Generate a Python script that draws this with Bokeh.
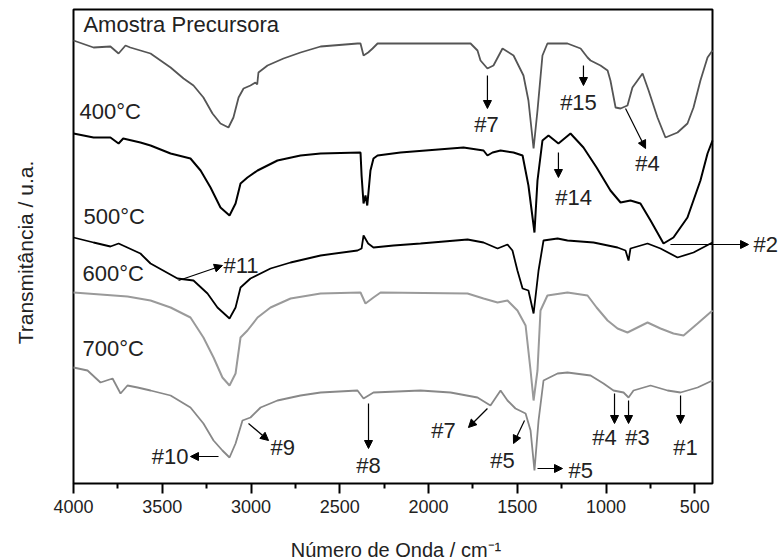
import math
from bokeh.plotting import figure
from bokeh.models import Range1d, FixedTicker, Label, Arrow, NormalHead, ColumnDataSource
from bokeh.embed import file_html
from bokeh.resources import INLINE

# ---------------- data (wavenumber / cm-1, transmittance in arbitrary offset units) ----------------
wn_prec = [4000, 3887, 3792, 3746, 3707, 3680, 3623, 3566, 3453, 3380, 3324, 3268, 3217, 3172, 3127,
           3099, 3070, 3042, 3003, 2975, 2965, 2958, 2907, 2817, 2721, 2608, 2400, 2383, 2366, 2340,
           2315, 2287, 2158, 1763, 1724, 1707, 1668, 1634, 1583, 1521, 1465, 1437, 1408, 1386, 1358,
           1330, 1217, 1143, 1104, 1087, 1031, 991, 975, 946, 918, 879, 851, 794, 760, 710,
           665, 597, 541, 507, 468, 428, 400]
t_prec = [443, 436, 437, 430, 438, 436, 433, 430, 416, 405, 398, 386, 370, 360, 356,
          366, 386, 395, 398, 401, 399, 411, 418, 425, 431, 437, 440, 440, 428, 431,
          435, 440, 440, 440, 433, 423, 415, 418, 435, 428, 408, 383, 335, 373, 428,
          440, 440, 435, 426, 423, 418, 413, 403, 376, 375, 378, 396, 410, 393, 366,
          346, 351, 360, 376, 403, 426, 433]

wn_400 = [4000, 3887, 3792, 3746, 3720, 3623, 3566, 3453, 3341, 3284, 3228, 3172, 3121, 3087, 3059,
          3020, 2963, 2851, 2721, 2608, 2383, 2377, 2366, 2355, 2345, 2327, 2310, 2287, 2158, 1803,
          1690, 1668, 1639, 1594, 1521, 1470, 1437, 1403, 1386, 1358, 1324, 1268, 1200, 1127, 1053,
          975, 918, 862, 806, 749, 676, 620, 541, 468, 428, 400]
t_400 = [350, 346, 346, 340, 345, 341, 338, 330, 325, 313, 296, 276, 268, 280, 300,
         306, 313, 323, 328, 330, 331, 308, 280, 288, 278, 313, 325, 328, 331, 336,
         333, 328, 331, 333, 331, 328, 298, 251, 303, 343, 348, 340, 350, 336, 316,
         293, 281, 283, 280, 263, 240, 246, 266, 303, 330, 343]

wn_500 = [4000, 3887, 3792, 3746, 3623, 3566, 3414, 3324, 3245, 3189, 3121, 3087, 3059, 3003, 2890,
          2777, 2608, 2400, 2377, 2366, 2340, 2310, 2197, 2045, 1780, 1690, 1611, 1555, 1527, 1499,
          1470, 1437, 1408, 1380, 1352, 1273, 1217, 1070, 935, 890, 873, 862, 766, 693, 597,
          507, 400]
t_500 = [246, 241, 237, 240, 230, 220, 205, 203, 190, 176, 165, 176, 196, 205, 215,
         221, 228, 233, 235, 248, 240, 236, 238, 240, 244, 241, 235, 239, 233, 213,
         195, 193, 170, 213, 243, 245, 243, 241, 236, 233, 223, 235, 240, 235, 226,
         231, 241]

wn_600 = [4000, 3696, 3566, 3453, 3341, 3268, 3211, 3161, 3121, 3087, 3059, 3020, 2963, 2890, 2777,
          2608, 2383, 2355, 2310, 2270, 1780, 1690, 1611, 1555, 1499, 1453, 1425, 1408, 1386, 1369,
          1330, 1217, 1104, 1053, 991, 935, 879, 766, 693, 620, 563, 484, 400]
t_600 = [191, 187, 183, 176, 166, 146, 126, 106, 98, 110, 146, 153, 166, 176, 185,
         190, 191, 180, 186, 191, 190, 185, 181, 183, 173, 158, 113, 83, 113, 173,
         188, 191, 188, 176, 163, 155, 151, 161, 155, 150, 148, 160, 173]

wn_700 = [4000, 3921, 3848, 3780, 3735, 3696, 3639, 3566, 3453, 3341, 3268, 3211, 3161, 3121, 3087,
          3048, 3003, 2946, 2851, 2721, 2608, 2400, 2366, 2310, 2045, 1876, 1724, 1651, 1594, 1555,
          1510, 1453, 1425, 1403, 1380, 1352, 1273, 1217, 1087, 1014, 958, 901, 873, 845, 749,
          653, 580, 484, 400]
t_700 = [116, 113, 101, 105, 90, 98, 96, 93, 88, 76, 60, 43, 33, 26, 40,
         63, 66, 76, 83, 88, 91, 93, 85, 91, 93, 91, 86, 78, 93, 83,
         75, 70, 53, 13, 63, 103, 110, 111, 108, 100, 93, 91, 86, 93, 98,
         93, 91, 96, 103]

x_ticks = [4000, 3500, 3000, 2500, 2000, 1500, 1000, 500]
x_minor = [3750, 3250, 2750, 2250, 1750, 1250, 750]
wn_window = (400, 4000)     # spectral window shown in the plot box
t_window = (0, 474)

series_names = ["Amostra Precursora", "400°C", "500°C", "600°C", "700°C"]
x_title = "Número de Onda / cm⁻¹"
y_title = "Transmitância / u.a."

# band annotations: label, arrow start (x,y), arrow end (x,y), label position, alignment
ann_labels = ["#7", "#15", "#4", "#14", "#2", "#11", "#10", "#9", "#8", "#7", "#5", "#5", "#4", "#3", "#1"]
arr_x0 = [1668, 1127, 890, 1268, 637, 3408, 3183, 3014, 2338, 1668, 1459, 1386, 952, 873, 580]
arr_y0 = [408, 418, 375, 331, 239, 203, 27, 60, 80, 75, 63, 15, 90, 83, 88]
arr_x1 = [1668, 1127, 777, 1268, 197, 3161, 3341, 2901, 2338, 1775, 1521, 1245, 952, 873, 580]
arr_y1 = [375, 398, 335, 306, 239, 218, 27, 43, 35, 56, 40, 15, 60, 60, 60]
lab_x = [1673, 1155, 766, 1183, 169, 3155, 3352, 2890, 2338, 1915, 1583, 1211, 1008, 822, 552]
lab_y = [359, 381, 320, 286, 239, 218, 27, 36, 18, 53, 23, 13, 46, 46, 36]
lab_align = ["center", "center", "center", "center", "left", "left", "right", "left",
             "center", "center", "center", "left", "center", "center", "center"]

name_x = [3944, 3966, 3944, 3949, 3949]
name_y = [459, 372, 267, 210, 135]

# ---------------- figure ----------------
FONT = "Liberation Sans"
TXT = "#222222"
W, H = 779, 559
box_l, box_r, box_t, box_b = 73, 712, 9, 483          # plot box in page pixels
ux = (wn_window[1] - wn_window[0]) / (box_r - box_l)  # cm-1 per pixel
uy = (t_window[1] - t_window[0]) / (box_b - box_t)
x_rng = Range1d(wn_window[1] + box_l * ux, wn_window[0] - (W - box_r) * ux)
y_rng = Range1d(t_window[0] - (H - box_b) * uy, t_window[1] + box_t * uy)

p = figure(width=W, height=H, x_range=x_rng, y_range=y_rng,
           output_backend="svg", toolbar_location=None, title=None,
           min_border_left=0, min_border_right=0, min_border_top=0, min_border_bottom=0)
p.background_fill_color = "white"
p.border_fill_color = "white"
p.outline_line_color = None
p.xgrid.grid_line_color = None
p.ygrid.grid_line_color = None
p.yaxis.visible = False

# plot box
p.quad(left=[wn_window[1]], right=[wn_window[0]], bottom=[t_window[0]], top=[t_window[1]],
       fill_color=None, line_color="black", line_width=2)

xa = p.xaxis[0]
xa.fixed_location = t_window[0]
xa.bounds = wn_window
xa.ticker = FixedTicker(ticks=x_ticks, minor_ticks=x_minor)
xa.axis_line_color = None
xa.major_tick_out = 10
xa.major_tick_in = 0
xa.major_tick_line_width = 2
xa.minor_tick_out = 5
xa.minor_tick_in = 0
xa.minor_tick_line_width = 2
xa.major_label_text_font = FONT
xa.major_label_text_font_size = "18px"
xa.major_label_text_color = TXT
xa.major_label_standoff = 6

# axis titles
p.add_layout(Label(x=(wn_window[0] + wn_window[1]) / 2 - 3 * ux, y=t_window[0] - 66 * uy, text=x_title,
                   text_font=FONT, text_font_size="20px", text_color=TXT,
                   text_align="center", text_baseline="middle"))
p.add_layout(Label(x=wn_window[1] + 48 * ux, y=(t_window[0] + t_window[1]) / 2 - 6 * uy, text=y_title,
                   angle=math.pi / 2, text_font=FONT, text_font_size="21px", text_color=TXT,
                   text_align="center", text_baseline="middle"))

curves = [(wn_prec, t_prec, "#555555", 1.8),
          (wn_400, t_400, "#000000", 2.0),
          (wn_500, t_500, "#000000", 1.8),
          (wn_600, t_600, "#9a9a9a", 2.0),
          (wn_700, t_700, "#888888", 1.8)]
for xs, ys, col, lw in curves:
    p.line(xs, ys, line_color=col, line_width=lw)

for name, nx, ny in zip(series_names, name_x, name_y):
    p.add_layout(Label(x=nx, y=ny, text=name, text_font=FONT, text_font_size="22px",
                       text_color=TXT, text_align="left", text_baseline="middle"))

for t, lx, ly, al in zip(ann_labels, lab_x, lab_y, lab_align):
    p.add_layout(Label(x=lx, y=ly, text=t, text_font=FONT, text_font_size="22px",
                       text_color=TXT, text_align=al, text_baseline="middle"))

src = ColumnDataSource(dict(x0=arr_x0, y0=arr_y0, x1=arr_x1, y1=arr_y1))
p.add_layout(Arrow(source=src, x_start="x0", y_start="y0", x_end="x1", y_end="y1",
                   line_color="black", line_width=1.2,
                   end=NormalHead(size=8, fill_color="black", line_color="black", line_width=1)))

open("out.html", "w").write(file_html(p, INLINE))
